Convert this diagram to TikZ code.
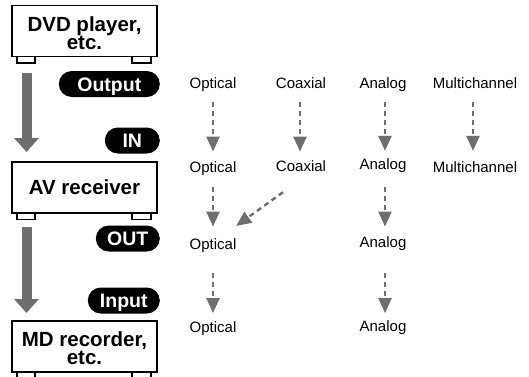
\documentclass[tikz,border=0pt]{standalone}
\usepackage{fontspec}
\setmainfont{Liberation Sans}
\usetikzlibrary{arrows.meta,calc}
\definecolor{gr}{HTML}{6E6E6E}
\begin{document}
\begin{tikzpicture}[x=1pt,y=-1pt,
  dev/.style={draw=black, line width=1.4pt, fill=white, minimum width=145pt, minimum height=51pt, inner sep=0pt, outer sep=0pt, align=center, font=\fontsize{20.5}{18}\selectfont\bfseries},
  devtext/.style={inner sep=0pt, align=center, font=\fontsize{20.5}{18.5}\selectfont\bfseries},
  foot/.style={draw=black, line width=1.4pt, fill=white},
  pill/.style={fill=black, text=white, rounded corners=13pt, minimum height=26pt, inner sep=0pt, anchor=east, font=\fontsize{19.5}{19.5}\selectfont\bfseries, text height=14pt, text depth=0pt},
  lbl/.style={anchor=base, inner sep=0pt, font=\fontsize{15}{15}\selectfont, text height=11.25pt, text depth=3.75pt},
  bigarrow/.style={draw=gr, line width=10pt, -{Triangle[width=24pt,length=14pt]}},
  darrow/.style={draw=gr, line width=2.4pt, dash pattern=on 5pt off 4pt, -{Triangle[width=13pt,length=15pt]}},
]
\useasboundingbox (0,0) rectangle (529,376);

% devices
\node[dev] (dvd) at (84.5,31) {};
\node[devtext] (dvdt) at (84.5,33) {DVD player,\\etc.};
\node[dev] (av) at (84.5,187.5) {AV receiver};
\node[dev] (md) at (84.5,346.5) {};
\node[devtext] (mdt) at (84.5,348.3) {MD recorder,\\etc.};
\foreach \b in {dvd,av,md}{
  \draw[foot] (\b.south west) ++(5,0) rectangle ++(18,6.5);
  \draw[foot] (\b.south east) ++(-6,0) rectangle ++(-19,6.5);
}

% big arrows
\draw[bigarrow, shorten <=16pt, shorten >=10pt] ([xshift=-58pt]dvd.south) -- ([xshift=-58pt]av.north);
\draw[bigarrow, shorten <=14pt, shorten >=8pt] ([xshift=-58pt]av.south) -- ([xshift=-58pt]md.north);

% pills
\node[pill, minimum width=101pt] (pout) at (160,84) {Output};
\node[pill, minimum width=55pt] (pin) at (160,140.5) {IN};
\node[pill, minimum width=64pt] (pout2) at (160,238.5) {OUT};
\node[pill, minimum width=72pt] (pinp) at (160,300.5) {Input};

% labels
\node[lbl] (o1) at (213,88) {Optical};
\node[lbl] (c1) at (301,88) {Coaxial};
\node[lbl] (a1) at (383,88) {Analog};
\node[lbl] (m1) at (475,88) {Multichannel};
\node[lbl] (o2) at (213,172) {Optical};
\node[lbl] (c2) at (301,171) {Coaxial};
\node[lbl] (a2) at (383,169) {Analog};
\node[lbl] (m2) at (475,172) {Multichannel};
\node[lbl] (o3) at (213,249) {Optical};
\node[lbl] (a3) at (383,247.5) {Analog};
\node[lbl] (o4) at (213,332.5) {Optical};
\node[lbl] (a4) at (383,331) {Analog};

% dashed arrows
\draw[darrow, shorten <=10pt, shorten >=9pt] (o1.south) -- (o2.north);
\draw[darrow, shorten <=10pt, shorten >=8pt] ([xshift=-1pt]c1.south) -- ([xshift=-1pt]c2.north);
\draw[darrow, shorten <=10pt, shorten >=6.75pt] ([xshift=2pt]a1.south) -- ([xshift=2pt]a2.north);
\draw[darrow, shorten <=10pt, shorten >=9.75pt] ([xshift=-2pt]m1.south) -- ([xshift=-2pt]m2.north);
\draw[darrow, shorten <=11pt, shorten >=11pt] (o2.south) -- (o3.north);
\draw[darrow, shorten <=14pt, shorten >=9.5pt] ([xshift=2pt]a2.south) -- ([xshift=2pt]a3.north);
\draw[darrow, shorten <=20.5pt, shorten >=8pt] (o3.south) -- (o4.north);
\draw[darrow, shorten <=22pt, shorten >=6.5pt] ([xshift=2pt]a3.south) -- ([xshift=2pt]a4.north);
\draw[darrow, shorten <=29.6pt, shorten >=19.9pt] ($(c2.south)+(6,0)$) -- ($(o3.north)+(7,0)$);
\end{tikzpicture}
\end{document}
